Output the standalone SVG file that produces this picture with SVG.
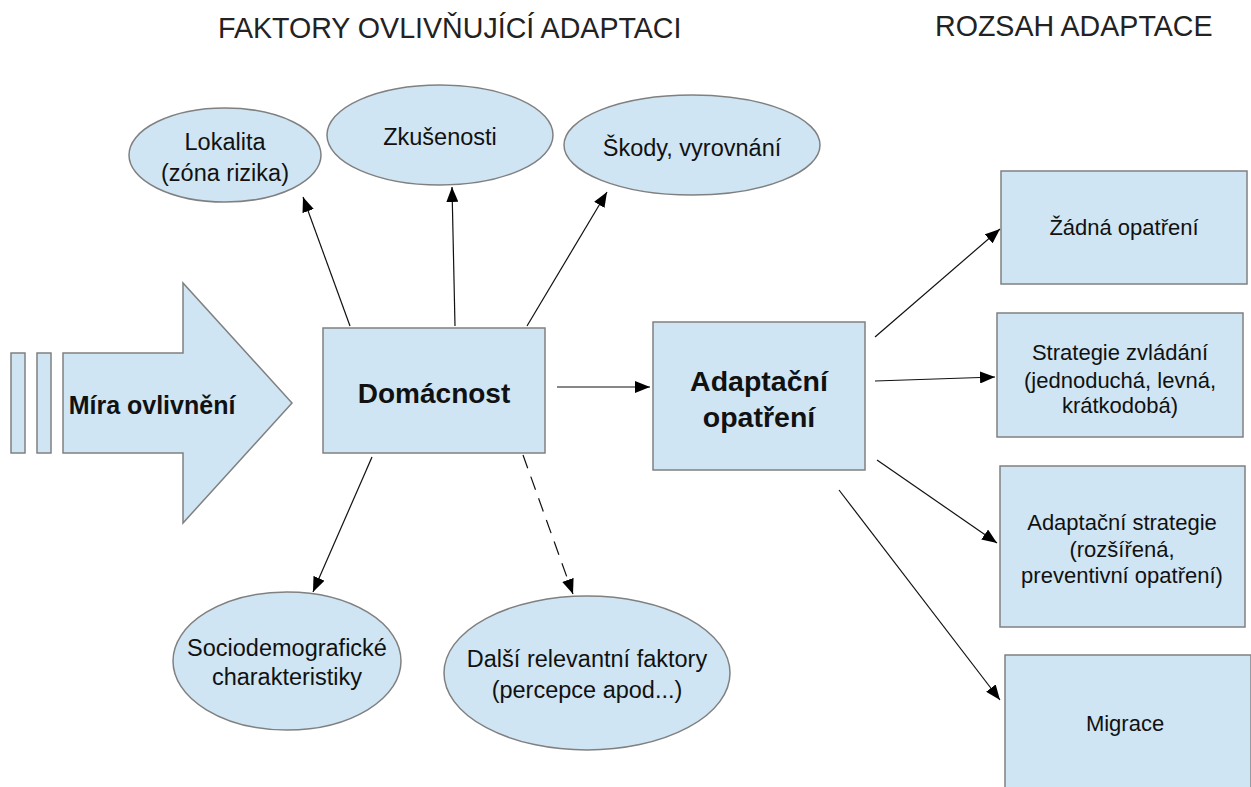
<svg xmlns="http://www.w3.org/2000/svg" width="1251" height="787" viewBox="0 0 1251 787">
<defs>
<style>
.s{fill:#cfe5f3;stroke:#808080;stroke-width:1.5}
.t{font-family:"Liberation Sans",Arial,sans-serif;fill:#111;text-anchor:middle}
.e{font-size:23.5px}
.r{font-size:22px}
.b{font-weight:bold}
.h{font-family:"Liberation Sans",Arial,sans-serif;font-size:28.6px;fill:#222}
.c{stroke:#111;stroke-width:1.2;fill:none;marker-end:url(#ah)}
</style>
<marker id="ah" markerUnits="userSpaceOnUse" markerWidth="16" markerHeight="12" refX="15" refY="6" orient="auto">
<path d="M0,0 L15,6 L0,12 z" fill="#000"/>
</marker>
</defs>
<rect width="1251" height="787" fill="#fff"/>
<text class="h" x="218" y="38">FAKTORY OVLIVŇUJÍCÍ ADAPTACI</text>
<text class="h" x="935" y="36">ROZSAH ADAPTACE</text>

<g id="mira">
<rect class="s" x="11" y="353" width="14" height="100"/>
<rect class="s" x="37" y="353" width="14" height="100"/>
<polygon class="s" points="63,353 183,353 183,283 292,403 183,523 183,453 63,453"/>
<text class="t b" x="152" y="414" style="font-size:25px">Míra ovlivnění</text>
</g>

<g id="lokalita">
<ellipse class="s" cx="225" cy="155" rx="96" ry="47"/>
<text class="t e" x="225" y="150">Lokalita</text>
<text class="t e" x="225" y="181">(zóna rizika)</text>
</g>
<g id="zkusenosti">
<ellipse class="s" cx="440" cy="135" rx="113" ry="50"/>
<text class="t e" x="440" y="145">Zkušenosti</text>
</g>
<g id="skody">
<ellipse class="s" cx="692" cy="145" rx="128" ry="50"/>
<text class="t e" x="692" y="156">Škody, vyrovnání</text>
</g>

<g id="domacnost">
<rect class="s" x="323" y="328" width="222" height="125"/>
<text class="t b" x="434" y="403" style="font-size:28px">Domácnost</text>
</g>
<g id="adaptacni-opatreni">
<rect class="s" x="653" y="322" width="212" height="148"/>
<text class="t b" x="759" y="391" style="font-size:28.5px">Adaptační</text>
<text class="t b" x="759" y="427" style="font-size:28.5px">opatření</text>
</g>

<g id="socio">
<ellipse class="s" cx="287" cy="661" rx="114" ry="69"/>
<text class="t e" x="287" y="656">Sociodemografické</text>
<text class="t e" x="287" y="685">charakteristiky</text>
</g>
<g id="dalsi">
<ellipse class="s" cx="587" cy="673" rx="143" ry="77"/>
<text class="t e" x="587" y="667">Další relevantní faktory</text>
<text class="t e" x="587" y="698">(percepce apod...)</text>
</g>

<g id="zadna">
<rect class="s" x="1001" y="171" width="246" height="113"/>
<text class="t r" x="1124" y="235">Žádná opatření</text>
</g>
<g id="strategie-zvladani">
<rect class="s" x="997" y="313" width="246" height="124"/>
<text class="t r" x="1120" y="360">Strategie zvládání</text>
<text class="t r" x="1120" y="388">(jednoduchá, levná,</text>
<text class="t r" x="1120" y="413">krátkodobá)</text>
</g>
<g id="adaptacni-strategie">
<rect class="s" x="1000" y="466" width="245" height="161"/>
<text class="t r" x="1122" y="530">Adaptační strategie</text>
<text class="t r" x="1122" y="557">(rozšířená,</text>
<text class="t r" x="1122" y="583">preventivní opatření)</text>
</g>
<g id="migrace">
<rect class="s" x="1005" y="655" width="246" height="140"/>
<text class="t r" x="1125" y="731">Migrace</text>
</g>

<g id="connectors">
<line class="c" x1="350" y1="326" x2="303" y2="197"/>
<line class="c" x1="455" y1="326" x2="452" y2="187"/>
<line class="c" x1="527" y1="326" x2="607" y2="192"/>
<line class="c" x1="557" y1="387" x2="650" y2="387"/>
<line class="c" x1="372" y1="457" x2="313" y2="592"/>
<line class="c" x1="523" y1="455" x2="573" y2="594" stroke-dasharray="14,9"/>
<line class="c" x1="875" y1="337" x2="1000" y2="229"/>
<line class="c" x1="875" y1="381" x2="995" y2="377"/>
<line class="c" x1="877" y1="460" x2="997" y2="543"/>
<line class="c" x1="839" y1="490" x2="1000" y2="700"/>
</g>
</svg>
